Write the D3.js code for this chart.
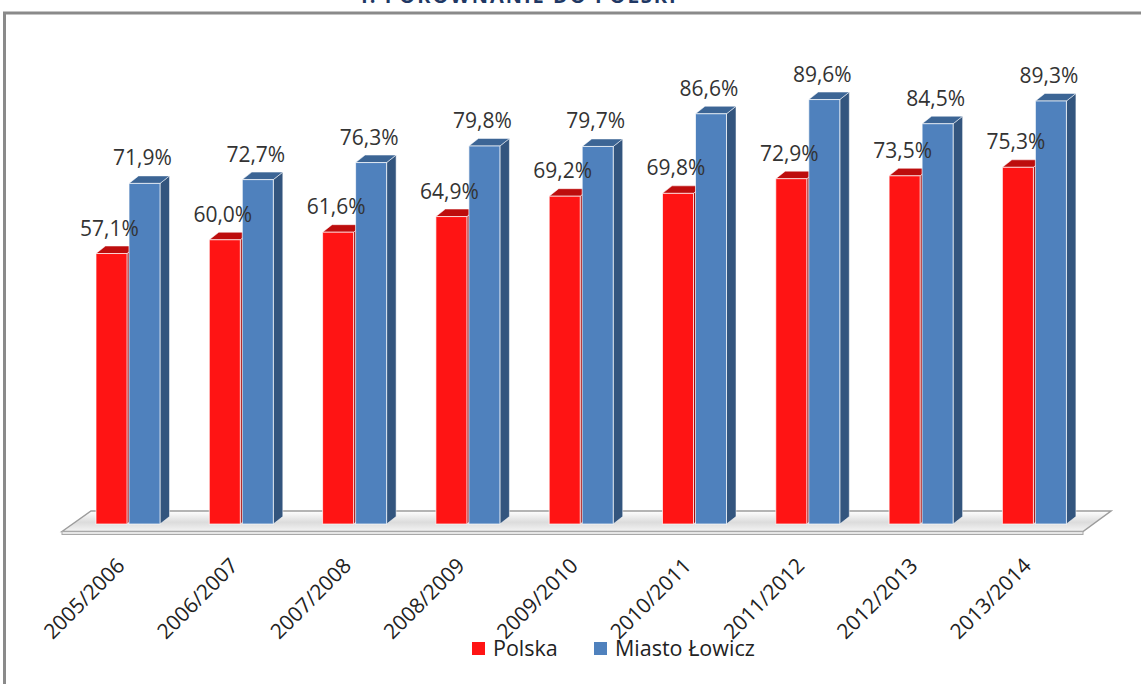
<!DOCTYPE html>
<html>
<head>
<meta charset="utf-8">
<script src="https://cdn.jsdelivr.net/npm/d3@7"></script>
<style>
  body { margin: 0; background: #fff; }
  svg { display: block; }
</style>
</head>
<body>
<svg id="chart"></svg>
<script>
const categories = ["2005/2006", "2006/2007", "2007/2008", "2008/2009", "2009/2010",
                    "2010/2011", "2011/2012", "2012/2013", "2013/2014"];
const seriesNames = ["Polska", "Miasto Łowicz"];
const polska = [57.1, 60.0, 61.6, 64.9, 69.2, 69.8, 72.9, 73.5, 75.3];
const lowicz = [71.9, 72.7, 76.3, 79.8, 79.7, 86.6, 89.6, 84.5, 89.3];
const titleText = "4. PORÓWNANIE DO POLSKI";

const width = 1141, height = 684;
const font = "'Open Sans', 'Noto Sans', sans-serif";

// face colours per series: front, top, side
const colors = {
  "Polska": { front: "#ff1414", top: "#bd0d0d", side: "#a50b0b" },
  "Miasto Łowicz": { front: "#4f81bd", top: "#3c6595", side: "#33557e" }
};

// 3d depth of a bar
const depthX = 9.5, depthY = -7.5;

const svg = d3.select("#chart")
  .attr("width", width)
  .attr("height", height);

const defs = svg.append("defs");
const floorGrad = defs.append("linearGradient")
  .attr("id", "floorGrad").attr("x1", 0).attr("y1", 0).attr("x2", 0).attr("y2", 1);
floorGrad.append("stop").attr("offset", "0%").attr("stop-color", "#ffffff");
floorGrad.append("stop").attr("offset", "55%").attr("stop-color", "#dcdcdc");
floorGrad.append("stop").attr("offset", "100%").attr("stop-color", "#f4f4f4");

// frame (only top and left visible)
svg.append("path")
  .attr("d", `M4.5,${height} L4.5,13 L${width},13`)
  .attr("fill", "none")
  .attr("stroke", "#8a8a8a")
  .attr("stroke-width", 3);

// cut-off title
svg.append("text")
  .attr("x", 517)
  .attr("y", 3)
  .attr("text-anchor", "middle")
  .attr("font-family", font)
  .attr("font-weight", "bold")
  .attr("font-size", 20)
  .attr("letter-spacing", 2)
  .attr("fill", "#1f3864")
  .text(titleText);

const x = d3.scaleBand()
  .domain(categories)
  .range([71.35, 71.35 + 9 * 113.3])
  .paddingInner(0.435)
  .paddingOuter(0.2175);

const xs = d3.scaleBand()
  .domain(seriesNames)
  .range([0, x.bandwidth()])
  .paddingInner(2 / 33);

const y = d3.scaleLinear()
  .domain([0, 100])
  .range([524, 50.3]);

// floor
const fl = 62, fr = 1083, fy = y(0) + 7.5;
const bx = 29, by = -20.5;
const g = svg.append("g");
g.append("path")
  .attr("d", `M${fl},${fy} L${fl + bx},${fy + by} L${fr + bx - 1},${fy + by} L${fr},${fy} Z`)
  .attr("fill", "url(#floorGrad)")
  .attr("stroke", "#9c9c9c")
  .attr("stroke-width", 1.5);
g.append("rect")
  .attr("x", fl).attr("y", fy)
  .attr("width", fr - fl).attr("height", 3)
  .attr("fill", "#e6e6e6")
  .attr("stroke", "#a8a8a8")
  .attr("stroke-width", 1);

const rows = categories.map((c, i) => ({
  cat: c,
  values: [
    { series: "Polska", value: polska[i] },
    { series: "Miasto Łowicz", value: lowicz[i] }
  ]
}));

const groups = g.selectAll(".grp")
  .data(rows)
  .enter()
  .append("g")
  .attr("class", "grp")
  .attr("transform", d => `translate(${x(d.cat)},0)`);

const bars = groups.selectAll(".bar")
  .data(d => d.values)
  .enter()
  .append("g")
  .attr("class", "bar");

const bw = xs.bandwidth();

bars.append("path")   // side
  .attr("d", d => {
    const x0 = xs(d.series) + bw, yt = y(d.value), yb = y(0);
    return `M${x0},${yb} L${x0 + depthX},${yb + depthY} L${x0 + depthX},${yt + depthY} L${x0},${yt} Z`;
  })
  .attr("fill", d => colors[d.series].side)
  .attr("stroke", "#ffffff").attr("stroke-opacity", 0.5).attr("stroke-width", 1);

bars.append("path")   // top
  .attr("d", d => {
    const x0 = xs(d.series), yt = y(d.value);
    return `M${x0},${yt} L${x0 + depthX},${yt + depthY} L${x0 + bw + depthX},${yt + depthY} L${x0 + bw},${yt} Z`;
  })
  .attr("fill", d => colors[d.series].top)
  .attr("stroke", "#ffffff").attr("stroke-opacity", 0.5).attr("stroke-width", 1);

bars.append("rect")   // front
  .attr("x", d => xs(d.series))
  .attr("y", d => y(d.value))
  .attr("width", bw)
  .attr("height", d => y(0) - y(d.value))
  .attr("fill", d => colors[d.series].front)
  .attr("stroke", "#ffffff").attr("stroke-opacity", 0.7).attr("stroke-width", 1);

// value labels
groups.selectAll(".lbl")
  .data(d => d.values)
  .enter()
  .append("text")
  .attr("class", "lbl")
  .attr("x", d => xs(d.series) + bw / 2 - 2)
  .attr("y", d => y(d.value) - 18)
  .attr("text-anchor", "middle")
  .attr("font-family", font)
  .attr("font-size", 21)
  .attr("fill", "#333333")
  .text(d => d.value.toFixed(1).replace(".", ",") + "%");

// category labels
svg.append("g").selectAll("text")
  .data(categories)
  .enter()
  .append("text")
  .attr("transform", d => `translate(${x(d) + x.bandwidth() / 2 - 2},567) rotate(-45)`)
  .attr("text-anchor", "end")
  .attr("font-family", font)
  .attr("font-size", 21)
  .attr("fill", "#222222")
  .text(d => d);

// legend
const legendX = [472, 594];
const legend = svg.append("g").selectAll("g")
  .data(seriesNames)
  .enter()
  .append("g")
  .attr("transform", (d, i) => `translate(${legendX[i]},642)`);
legend.append("rect")
  .attr("width", 13).attr("height", 13)
  .attr("fill", d => colors[d].front);
legend.append("text")
  .attr("x", 21).attr("y", 14)
  .attr("font-family", font)
  .attr("font-size", 21.5)
  .attr("fill", "#222222")
  .text(d => d);
</script>
</body>
</html>
